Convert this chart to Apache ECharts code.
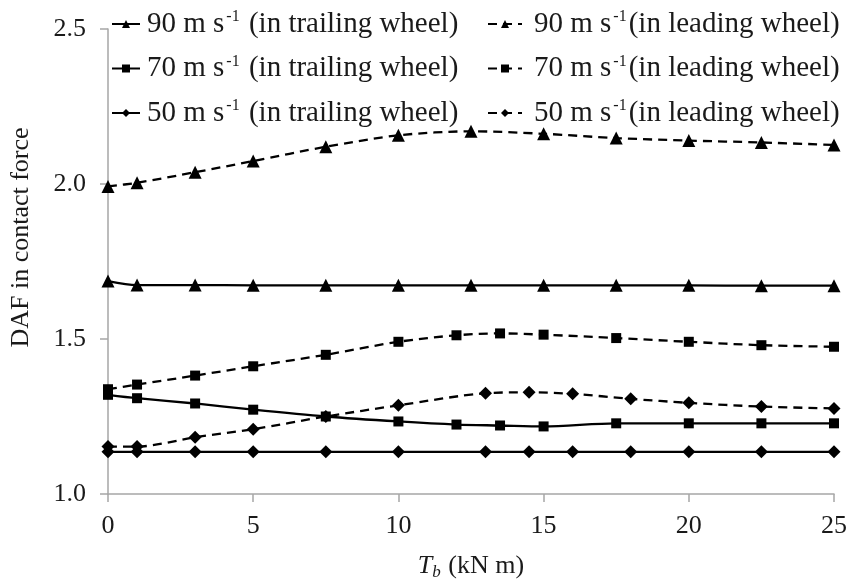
<!DOCTYPE html>
<html>
<head>
<meta charset="utf-8">
<script src="https://cdn.jsdelivr.net/npm/echarts@6/dist/echarts.min.js"></script>
<style>html,body{margin:0;padding:0;background:#fff;}#chart{width:851px;height:586px;}</style>
</head>
<body>
<div id="chart"></div>
<script>
// ---- data ----
const x90 = [0, 1, 3, 5, 7.5, 10, 12.5, 15, 17.5, 20, 22.5, 25];
const y90trailing = [1.687, 1.674, 1.674, 1.673, 1.673, 1.673, 1.673, 1.673, 1.673, 1.673, 1.672, 1.672];
const y90leading = [1.992, 2.004, 2.038, 2.074, 2.120, 2.157, 2.170, 2.162, 2.148, 2.140, 2.134, 2.126];
const x70 = [0, 1, 3, 5, 7.5, 10, 12, 13.5, 15, 17.5, 20, 22.5, 25];
const y70trailing = [1.320, 1.309, 1.292, 1.272, 1.250, 1.234, 1.224, 1.221, 1.218, 1.228, 1.228, 1.228, 1.228];
const y70leading = [1.338, 1.353, 1.382, 1.412, 1.449, 1.491, 1.512, 1.518, 1.514, 1.503, 1.491, 1.480, 1.475];
const x50 = [0, 1, 3, 5, 7.5, 10, 13, 14.5, 16, 18, 20, 22.5, 25];
const y50trailing = [1.136, 1.136, 1.136, 1.136, 1.136, 1.136, 1.136, 1.136, 1.136, 1.136, 1.136, 1.136, 1.136];
const y50leading = [1.153, 1.153, 1.183, 1.209, 1.250, 1.286, 1.325, 1.328, 1.323, 1.307, 1.294, 1.282, 1.276];
const xTicks = [0, 5, 10, 15, 20, 25];
const yTicks = [1.0, 1.5, 2.0, 2.5];
const names = {
  t90: '90 m s-1 (in trailing wheel)', l90: '90 m s-1 (in leading wheel)',
  t70: '70 m s-1 (in trailing wheel)', l70: '70 m s-1 (in leading wheel)',
  t50: '50 m s-1 (in trailing wheel)', l50: '50 m s-1 (in leading wheel)'
};

const FONT = "'Liberation Serif', 'Times New Roman', serif";
const TXT = '#1a1a1a';
const zip = (xs, ys) => xs.map((x, i) => [x, ys[i]]);

function mk(name, xs, ys, symbol, size, dashed) {
  return {
    name: name, type: 'line', data: zip(xs, ys),
    symbol: symbol, symbolSize: size, smooth: 0.3,
    itemStyle: { color: '#000' },
    lineStyle: { color: '#000', width: 2.3, type: dashed ? [9, 6] : 'solid' },
    emphasis: { disabled: true }, animation: false
  };
}

function legendFmt(name) {
  const m = name.match(/^(\d+ m s)-1 (.*)$/);
  const lead = name.indexOf('leading') >= 0;
  return '{t|' + m[1] + '}{s|-1}{t|' + (lead ? '' : ' ') + m[2] + '}';
}
function legendText(padLeft) {
  return {
    fontFamily: FONT, fontSize: 29, color: TXT, padding: [0, 0, 0, padLeft],
    rich: {
      t: { fontFamily: FONT, fontSize: 29, color: TXT, lineHeight: 30 },
      s: { fontFamily: FONT, fontSize: 16, color: TXT, lineHeight: 16, verticalAlign: 'top', padding: [0, 2, 0, 2] }
    }
  };
}

const chart = echarts.init(document.getElementById('chart'), null, { renderer: 'canvas' });
chart.setOption({
  backgroundColor: '#fff',
  animation: false,
  grid: { left: 103, right: 17, top: 29, bottom: 73, containLabel: false },
  legend: [
    { data: [names.t90, names.t70, names.t50], orient: 'vertical', left: 106, top: 4,
      itemWidth: 28, itemHeight: 10, itemGap: 15, formatter: legendFmt, textStyle: legendText(2),
      selectedMode: false },
    { data: [names.l90, names.l70, names.l50], orient: 'vertical', left: 482, top: 4,
      itemWidth: 34, itemHeight: 10, itemGap: 15, formatter: legendFmt, textStyle: legendText(7),
      selectedMode: false }
  ],
  xAxis: {
    type: 'value', min: xTicks[0], max: xTicks[xTicks.length - 1], interval: 5,
    name: '{i|T}{b|b}{t| (kN m)}', nameLocation: 'middle', nameGap: 57,
    nameTextStyle: {
      fontFamily: FONT, fontSize: 26, color: TXT,
      rich: {
        i: { fontFamily: FONT, fontSize: 26, fontStyle: 'italic', color: TXT, lineHeight: 30 },
        b: { fontFamily: FONT, fontSize: 17, fontStyle: 'italic', color: TXT, lineHeight: 17, verticalAlign: 'bottom', padding: [0, 1, 0, 0] },
        t: { fontFamily: FONT, fontSize: 26, color: TXT, lineHeight: 30 }
      }
    },
    axisLine: { onZero: false, lineStyle: { color: '#a6a6a6', width: 1.5 } },
    axisTick: { show: true, inside: false, length: 8, lineStyle: { color: '#a6a6a6', width: 1.5 } },
    axisLabel: { fontFamily: FONT, fontSize: 26, color: TXT, margin: 19 },
    splitLine: { show: false }
  },
  yAxis: {
    type: 'value', min: yTicks[0], max: yTicks[yTicks.length - 1], interval: 0.5,
    name: 'DAF in contact force', nameLocation: 'middle', nameGap: 74,
    nameTextStyle: { fontFamily: FONT, fontSize: 26, color: TXT, padding: [0, 0, 0, 48] },
    axisLine: { show: true, lineStyle: { color: '#a6a6a6', width: 1.5 } },
    axisTick: { show: true, inside: false, length: 8, lineStyle: { color: '#a6a6a6', width: 1.5 } },
    axisLabel: { fontFamily: FONT, fontSize: 26, color: TXT, margin: 22, formatter: v => v.toFixed(1) },
    splitLine: { show: false }
  },
  series: [
    mk(names.t90, x90, y90trailing, 'triangle', 13, false),
    mk(names.l90, x90, y90leading, 'triangle', 13, true),
    mk(names.t70, x70, y70trailing, 'rect', 10, false),
    mk(names.l70, x70, y70leading, 'rect', 10, true),
    mk(names.t50, x50, y50trailing, 'diamond', 13, false),
    mk(names.l50, x50, y50leading, 'diamond', 13, true)
  ]
});
</script>
</body>
</html>
